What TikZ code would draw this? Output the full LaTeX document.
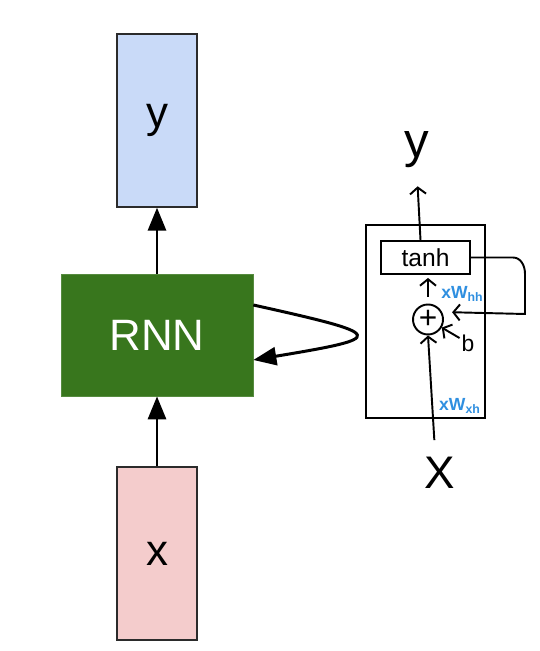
\documentclass[tikz,border=0pt]{standalone}
\usepackage{fontspec}
\setmainfont{Liberation Sans}
\usepackage{xcolor}
\usetikzlibrary{arrows.meta,positioning,calc}
\definecolor{RnnGreen}{HTML}{38761D}
\definecolor{OutBlue}{HTML}{C9DAF8}
\definecolor{InPink}{HTML}{F4CCCC}
\definecolor{EdgeGray}{HTML}{2B2B2B}
\definecolor{InkBlue}{HTML}{2F8FE0}
\tikzset{
  vecbox/.style={draw=EdgeGray, line width=0.9pt, minimum width=16mm, minimum height=34.6mm, font=\fontsize{25}{30}\selectfont},
  cellbox/.style={fill=RnnGreen, draw=RnnGreen!85!white, minimum width=38.4mm, minimum height=24.4mm, text=white, font=\fontsize{25}{30}\selectfont},
  flow/.style={-{Triangle[length=4.6mm,width=3.6mm]}, line width=1.7pt},
  ink/.style={line width=1.1pt},
  inkarrow/.style={ink, -{Straight Barb[length=1.3mm,width=3.2mm]}},
  weight/.style={text=InkBlue, font=\fontsize{10}{11}\selectfont\bfseries, inner sep=0pt}
}

\begin{document}
\begin{tikzpicture}[node distance=13.2mm]
    \fill[white] (0,0) rectangle (10.8,13.02);
    \useasboundingbox (0,0) rectangle (10.8,13.02);

    \node[cellbox] (rnn) at (3.14,6.32) {RNN};
    \node[vecbox, fill=OutBlue, above=13.2mm of rnn] (y) {y};
    \node[vecbox, fill=InPink, below=14mm of rnn] (x) {x};

    \draw[flow] (rnn) -- (y);
    \draw[flow] (x) -- (rnn);
    \draw[flow] ([yshift=6mm]rnn.east) .. controls +(2.7,-0.6) and +(2.7,0.45) .. ([yshift=-5mm]rnn.east);

    \node[draw, ink, minimum width=23.8mm, minimum height=38.6mm] (cell) at (8.51,6.59) {};
    \node[draw, ink, minimum width=17.8mm, minimum height=6.6mm, font=\fontsize{14}{16}\selectfont] (tanh) at (8.51,7.87) {tanh};
    \node[draw, ink, circle, minimum size=6mm, inner sep=0pt, font=\fontsize{18}{18}\selectfont] (plus) at (8.56,6.63) {+};
    \node[font=\fontsize{28}{32}\selectfont] (yout) at (8.34,10.02) {y};
    \node[font=\fontsize{26}{30}\selectfont] (xin) at (8.80,3.56) {X};
    \node[font=\fontsize{13}{15}\selectfont, inner sep=1pt] (bias) at (9.36,6.16) {b};
    \node[weight] (whh) at (9.25,7.14) {xW\textsubscript{hh}};
    \node[weight] (wxh) at (9.20,4.90) {xW\textsubscript{xh}};
    \coordinate (loopturn) at (10.50,6.74);

    \draw[inkarrow, shorten >=2.4mm] ([xshift=-1mm]tanh.north) -- (yout.south);
    \draw[inkarrow, shorten <=1.4mm, shorten >=0.6mm] (plus.north) -- (plus.north |- tanh.south);
    \draw[inkarrow, shorten >=2mm] (tanh.east) -- ++(0.84,0) to[out=0, in=90] ++(0.24,-0.32) -- (loopturn) -- (plus.28);
    \draw[inkarrow] (bias) -- (plus);
    \draw[inkarrow, shorten <=2.2mm] ([xshift=-1mm]xin.north) -- (plus.south);
\end{tikzpicture}
\end{document}
